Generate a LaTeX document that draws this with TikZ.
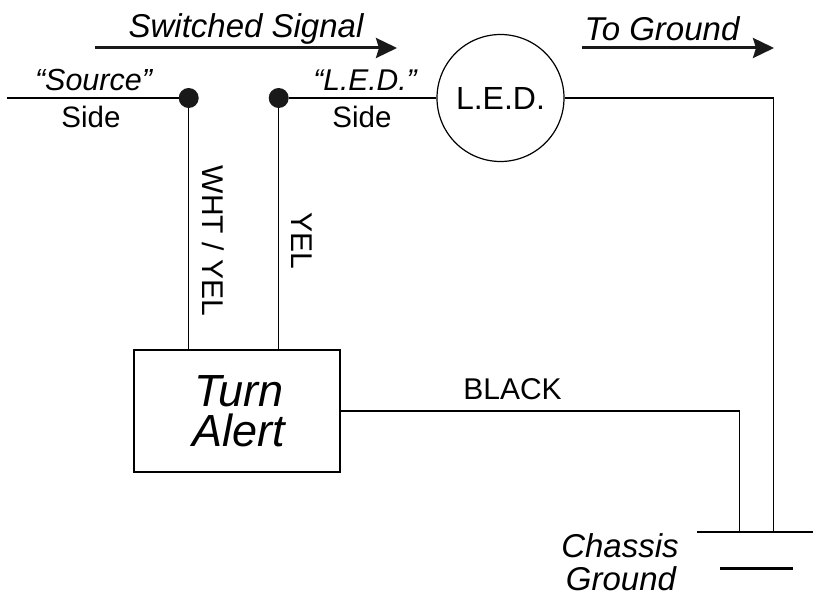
\documentclass[tikz,border=0pt]{standalone}
\usepackage{fontspec}
\setmainfont{Liberation Sans}
\usetikzlibrary{arrows.meta}
\tikzset{
  wire/.style={line width=1.2pt,black},
  flow/.style={line width=3pt,black!90,-{Stealth[length=21pt,width=20pt,inset=3pt]}},
  plate/.style={line width=3pt,black},
  dotnode/.style={circle,fill=black!90,draw=none,minimum size=20pt,inner sep=0pt},
  lab/.style={anchor=base,inner sep=0pt,font=\fontsize{30}{36}\selectfont},
  ilab/.style={anchor=base,inner sep=0pt,font=\fontsize{33}{36}\selectfont\itshape},
  vlab/.style={rotate=-90,inner sep=0pt,font=\fontsize{30}{36}\selectfont},
}
\begin{document}
\begin{tikzpicture}[x=1pt,y=-1pt]
\useasboundingbox (0,0) rectangle (813,601);
% nodes
\node[dotnode] (dotA) at (188.7,98) {};
\node[dotnode] (dotB) at (278.7,98) {};
\node[circle,draw,line width=1.2pt,minimum size=127pt,inner sep=0pt,font=\fontsize{32}{36}\selectfont] (led) at (500.5,98) {L.E.D.};
\node[draw,line width=1.2pt,minimum width=206pt,minimum height=122pt,inner sep=0pt,align=center,font=\fontsize{45}{40}\selectfont\itshape] (box) at (237,411) {\hspace*{4pt}Turn\\\hspace*{4pt}Alert};
% free ends
\coordinate (src) at (7,98);
\coordinate (gA) at (773.5,532);
\coordinate (gB) at (739.5,532);
\coordinate (p1L) at (697,532);
\coordinate (p1R) at (813,532);
\coordinate (p2L) at (720,568);
\coordinate (p2R) at (793,568);
\coordinate (a1L) at (95,48);
\coordinate (a1R) at (397,48);
\coordinate (a2L) at (582,48);
\coordinate (a2R) at (774,48);
% wires
\draw[wire] (src) -- (dotA);
\draw[wire] (dotB) -- (led);
\draw[wire] (dotA) -- (dotA |- box.north);
\draw[wire] (dotB) -- (dotB |- box.north);
\draw[wire] (led.east) -| (gA);
\draw[wire] (box.east) -| (gB);
\draw[plate,line width=2.6pt] (p1L) -- (p1R);
\draw[plate] (p2L) -- (p2R);
\draw[flow] (a1L) -- (a1R);
\draw[flow] (a2L) -- (a2R);
% labels
\node[ilab] (tSwitched) at (246,37.5) {Switched Signal};
\node[ilab] (tTo) at (662,41) {To Ground};
\node[lab,font=\fontsize{30.5}{36}\selectfont\itshape] (tSrc) at (93.5,91) {“Source”};
\node[lab,font=\fontsize{29.5}{36}\selectfont] (tSide1) at (91,128) {Side};
\node[lab,font=\fontsize{30}{36}\selectfont\itshape] (tLed) at (365,91) {“L.E.D.”};
\node[lab,font=\fontsize{29.5}{36}\selectfont] (tSide2) at (362,128) {Side};
\node[lab] (tBlack) at (512.5,399) {BLACK};
\node[ilab] (tCh) at (620,557) {Chassis};
\node[ilab] (tGr) at (621,590) {Ground};
\node[vlab] (tWY) at (213,241) {WHT / YEL};
\node[vlab] (tY) at (302,241) {YEL};
\end{tikzpicture}
\end{document}
